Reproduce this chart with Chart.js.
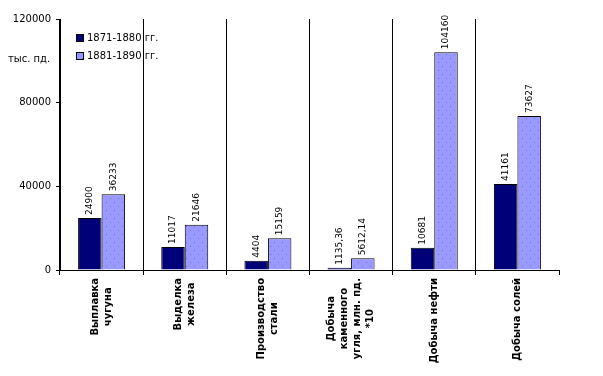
<!DOCTYPE html>
<html>
<head>
<meta charset="utf-8">
<script src="https://cdn.jsdelivr.net/npm/chart.js@4"></script>
<style>
  html, body { margin: 0; padding: 0; background: #fff; }
  #wrap { width: 603px; height: 376px; }
</style>
</head>
<body>
<div id="wrap"><canvas id="chart" width="603" height="376"></canvas></div>
<script>
// categories (each line of the rotated label is one entry)
const categories = [
  ["Выплавка", "чугуна"],
  ["Выделка", "железа"],
  ["Производство", "стали"],
  ["Добыча", "каменного", "угля, млн. пд.", "*10"],
  ["Добыча нефти"],
  ["Добыча солей"]
];
const seriesNames = ["1871-1880 гг.", "1881-1890 гг."];
const values1871 = [24900, 11017, 4404, 1135.36, 10681, 41161];
const values1881 = [36233, 21646, 15159, 5612.14, 104160, 73627];
const yTicks = [0, 40000, 80000, 120000];
const yUnit = "тыс. пд.";

const FONT = "'DejaVu Sans', sans-serif";

// dotted fill for the second series
function makePattern() {
  const c = document.createElement("canvas");
  c.width = 8;
  c.height = 8;
  const g = c.getContext("2d");
  g.fillStyle = "#9999ff";
  g.fillRect(0, 0, 8, 8);
  g.fillStyle = "#7070dd";
  g.fillRect(2, 2, 1, 1);
  g.fillRect(6, 6, 1, 1);
  return g.createPattern(c, "repeat");
}

function fmt(v) {
  return String(v).replace(".", ",");
}

// value labels over the bars, rotated
const barLabels = {
  id: "barLabels",
  afterDatasetsDraw(chart) {
    const ctx = chart.ctx;
    ctx.save();
    ctx.font = "9px " + FONT;
    ctx.fillStyle = "#000";
    chart.data.datasets.forEach((ds, di) => {
      const meta = chart.getDatasetMeta(di);
      meta.data.forEach((bar, i) => {
        ctx.save();
        ctx.translate(bar.x, bar.y - 3);
        ctx.rotate(-Math.PI / 2);
        ctx.textAlign = "left";
        ctx.textBaseline = "middle";
        ctx.fillText(fmt(ds.data[i]), 0, 0);
        ctx.restore();
      });
    });
    ctx.restore();
  }
};

// category labels, rotated with lines centred, plus legend and unit text
const extras = {
  id: "extras",
  afterDraw(chart) {
    const ctx = chart.ctx;
    const xs = chart.scales.x;
    const area = chart.chartArea;
    ctx.save();
    ctx.fillStyle = "#000";

    ctx.font = "bold 10px " + FONT;
    const lineGap = 13;
    categories.forEach((lines, i) => {
      const cx = xs.getPixelForValue(i);
      let maxW = 0;
      lines.forEach(l => { maxW = Math.max(maxW, ctx.measureText(l).width); });
      const cy = area.bottom + 8 + maxW / 2;
      lines.forEach((l, j) => {
        ctx.save();
        ctx.translate(cx + (j - (lines.length - 1) / 2) * lineGap, cy);
        ctx.rotate(-Math.PI / 2);
        ctx.textAlign = "center";
        ctx.textBaseline = "middle";
        ctx.fillText(l, 0, 0);
        ctx.restore();
      });
    });

    // unit
    ctx.font = "10px " + FONT;
    ctx.textAlign = "left";
    ctx.textBaseline = "middle";
    ctx.fillText(yUnit, 8, 59);

    // legend
    const colors = ["#000078", makePattern()];
    seriesNames.forEach((name, i) => {
      const y = 34 + i * 18;
      ctx.fillStyle = colors[i];
      ctx.fillRect(76, y, 8, 8);
      ctx.strokeStyle = "#000";
      ctx.lineWidth = 1;
      ctx.strokeRect(76.5, y + 0.5, 7, 7);
      ctx.fillStyle = "#000";
      ctx.fillText(name, 87, y + 4);
    });
    ctx.restore();
  }
};

new Chart(document.getElementById("chart"), {
  type: "bar",
  data: {
    labels: categories,
    datasets: [
      {
        label: seriesNames[0],
        data: values1871,
        backgroundColor: "#000078",
        borderColor: "#000",
        borderWidth: 1,
        categoryPercentage: 0.565,
        barPercentage: 1
      },
      {
        label: seriesNames[1],
        data: values1881,
        backgroundColor: makePattern(),
        borderColor: "#000",
        borderWidth: 1,
        categoryPercentage: 0.565,
        barPercentage: 1
      }
    ]
  },
  options: {
    responsive: false,
    animation: false,
    layout: { padding: { top: 19, left: 0, right: 44, bottom: 0 } },
    plugins: {
      legend: { display: false },
      tooltip: { enabled: false }
    },
    scales: {
      x: {
        grid: {
          offset: true,
          color: (c) => (c.type === "tick" ? "#000" : "rgba(0,0,0,0)"),
          tickColor: "#000",
          tickLength: 5,
          lineWidth: 1
        },
        border: { display: true, color: "#000" },
        ticks: { display: false },
        afterFit: (s) => { s.height = 106; }
      },
      y: {
        min: 0,
        max: 120000,
        afterBuildTicks: (s) => { s.ticks = yTicks.map(v => ({ value: v })); },
        grid: {
          drawOnChartArea: false,
          color: "#000",
          tickLength: 4
        },
        border: { display: true, color: "#000" },
        ticks: {
          color: "#000",
          font: { family: FONT, size: 10 },
          padding: 5,
          callback: (v) => String(v)
        },
        afterFit: (s) => { s.width = 60; }
      }
    }
  },
  plugins: [barLabels, extras]
});
</script>
</body>
</html>
